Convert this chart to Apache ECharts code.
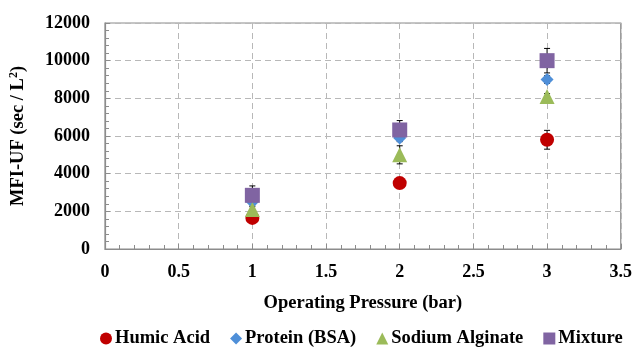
<!DOCTYPE html>
<html><head><meta charset="utf-8">
<script src="https://cdn.jsdelivr.net/npm/echarts@6/dist/echarts.min.js"></script>
<style>html,body{margin:0;padding:0;background:#fff}#c{width:635px;height:347px}</style>
</head><body><div id="c"></div>
<script>
var pressures = [1, 2, 3];
var seriesNames = ['Humic Acid', 'Protein (BSA)', 'Sodium Alginate', 'Mixture'];
var humicAcid = [1650, 3500, 5800];
var protein = [2500, 5900, 9000];
var sodiumAlginate = [2100, 5000, 8100];
var mixture = [2850, 6320, 10000];
var humicErr = [150, 100, 500];
var proteinErr = [150, 200, 200];
var sodiumErr = [150, 480, 150];
var mixtureErr = [500, 500, 650];
var xTicks = [0, 0.5, 1, 1.5, 2, 2.5, 3, 3.5];
var yTicks = [0, 2000, 4000, 6000, 8000, 10000, 12000];

var colors = ['#C00000', '#4F8FD8', '#9BBB59', '#8064A2'];
var symbols = ['circle', 'diamond', 'triangle', 'rect'];
var sizes = [14, 13, 15, 15];
var values = [humicAcid, protein, sodiumAlginate, mixture];
var errs = [humicErr, proteinErr, sodiumErr, mixtureErr];
var font = '"Liberation Serif", "Times New Roman", serif';

var series = [];
values.forEach(function (vals, i) {
  series.push({
    type: 'custom',
    z: 1,
    silent: true,
    data: pressures.map(function (p, k) { return [p, vals[k] - errs[i][k], vals[k] + errs[i][k]]; }),
    renderItem: function (params, api) {
      var lo = api.coord([api.value(0), api.value(1)]);
      var hi = api.coord([api.value(0), api.value(2)]);
      var w = 3;
      var st = { stroke: '#000', lineWidth: 1 };
      return { type: 'group', children: [
        { type: 'line', shape: { x1: lo[0], y1: lo[1], x2: hi[0], y2: hi[1] }, style: st },
        { type: 'line', shape: { x1: lo[0] - w, y1: lo[1], x2: lo[0] + w, y2: lo[1] }, style: st },
        { type: 'line', shape: { x1: hi[0] - w, y1: hi[1], x2: hi[0] + w, y2: hi[1] }, style: st }
      ]};
    }
  });
});
values.forEach(function (vals, i) {
  series.push({
    name: seriesNames[i],
    type: 'scatter',
    z: 2 + i,
    symbol: symbols[i],
    symbolSize: sizes[i],
    itemStyle: { color: colors[i], opacity: 1 },
    data: pressures.map(function (p, k) { return [p, vals[k]]; })
  });
});

var chart = echarts.init(document.getElementById('c'));
chart.setOption({
  animation: false,
  grid: { left: 105, right: 14, top: 23, bottom: 98, show: true, borderColor: '#8c8c8c', borderWidth: 1.2, backgroundColor: 'transparent' },
  legend: {
    data: seriesNames.map(function (n, i) { return { name: n, icon: symbols[i] }; }),
    top: 324,
    left: 95,
    itemWidth: 12,
    itemHeight: 12,
    itemGap: 20,
    textStyle: { fontFamily: font, fontWeight: 'bold', fontSize: 18.5, color: '#000', padding: [0, 0, 0, -2] }
  },
  xAxis: {
    type: 'value', min: xTicks[0], max: xTicks[xTicks.length - 1], interval: 0.5,
    name: 'Operating Pressure (bar)', nameLocation: 'middle', nameGap: 45,
    nameTextStyle: { fontFamily: font, fontWeight: 'bold', fontSize: 18.5, color: '#000' },
    axisLine: { show: true, lineStyle: { color: '#8c8c8c', width: 1.2 } },
    axisTick: { show: true, inside: true, length: 5, lineStyle: { color: '#8c8c8c' } },
    minorTick: { show: true, splitNumber: 5, length: 4, lineStyle: { color: '#8c8c8c' } },
    axisLabel: { fontFamily: font, fontWeight: 'bold', fontSize: 18, color: '#000', margin: 14 },
    splitLine: { show: true, lineStyle: { color: '#b8b8b8', type: [6, 4], width: 1 } }
  },
  yAxis: {
    type: 'value', min: yTicks[0], max: yTicks[yTicks.length - 1], interval: 2000,
    name: 'MFI-UF (sec / L{s|2})', nameLocation: 'middle', nameGap: 77,
    nameTextStyle: { fontFamily: font, fontWeight: 'bold', fontSize: 18.5, color: '#000',
      rich: { s: { fontFamily: font, fontWeight: 'bold', fontSize: 12, color: '#000', verticalAlign: 'top', padding: [0, 0, 8, 0] } } },
    axisLine: { show: true, lineStyle: { color: '#8c8c8c', width: 1.2 } },
    axisTick: { show: true, inside: true, length: 5, lineStyle: { color: '#8c8c8c' } },
    minorTick: { show: true, splitNumber: 5, length: 4, lineStyle: { color: '#8c8c8c' } },
    axisLabel: { fontFamily: font, fontWeight: 'bold', fontSize: 18, color: '#000', margin: 15,
      formatter: function (v) { return String(v); } },
    splitLine: { show: true, lineStyle: { color: '#b8b8b8', type: [6, 4], width: 1 } }
  },
  series: series
});
</script>
</body></html>
